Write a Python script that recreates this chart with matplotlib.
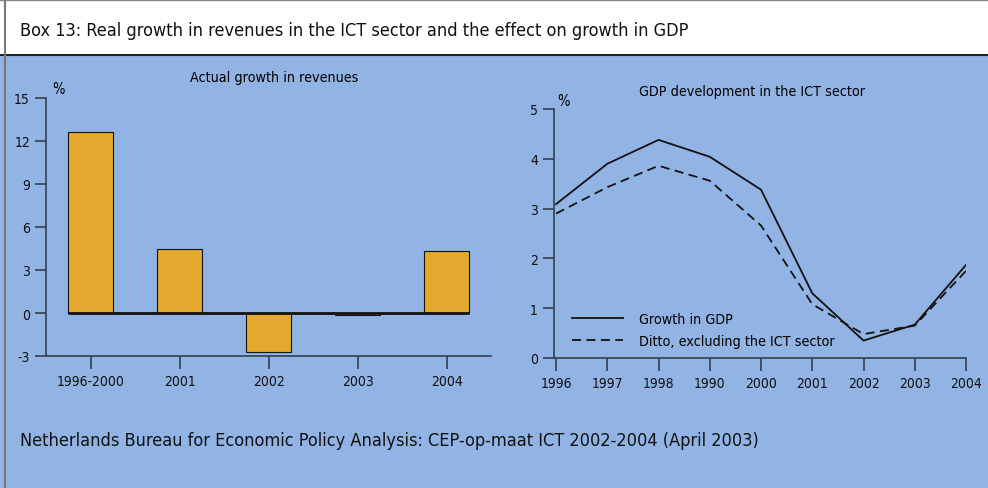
import matplotlib
matplotlib.use("Agg")
import matplotlib.pyplot as plt
from matplotlib.patches import Rectangle
from matplotlib.lines import Line2D

# data
rev_labels = ["1996-2000", "2001", "2002", "2003", "2004"]
rev_growth = [12.6, 4.5, -2.7, -0.15, 4.3]

gdp_years = ["1996", "1997", "1998", "1990", "2000", "2001", "2002", "2003", "2004"]
gdp_growth = [3.09, 3.9, 4.38, 4.04, 3.38, 1.30, 0.35, 0.67, 1.87]
gdp_ex_ict = [2.9, 3.43, 3.86, 3.56, 2.66, 1.08, 0.48, 0.65, 1.75]

BLUE = "#91b4e4"
BAR = "#e3a82e"
AXC = "#33404f"
plt.rcParams["font.family"] = ["DejaVu Sans"]
plt.rcParams["font.stretch"] = "condensed"
plt.rcParams["axes.unicode_minus"] = False

W, H = 988, 489
fig = plt.figure(figsize=(W / 100, H / 100), dpi=100)
fig.patch.set_facecolor(BLUE)


def px(x0, y0, x1, y1):
    return [x0 / W, 1 - y1 / H, (x1 - x0) / W, (y1 - y0) / H]


# header box and borders
fig.add_artist(Rectangle((0, 1 - 56 / H), 1, 56 / H, transform=fig.transFigure,
                         facecolor="white", edgecolor="none"))
fig.add_artist(Line2D([0, 1], [1 - 56 / H] * 2, transform=fig.transFigure, color="#222222", lw=1.5))
fig.add_artist(Line2D([0, 1], [1 - 0.5 / H] * 2, transform=fig.transFigure, color="#888888", lw=1))
fig.add_artist(Line2D([4.5 / W] * 2, [0, 1], transform=fig.transFigure, color="#777777", lw=1.5))
fig.text(20 / W, 1 - 31 / H, "Box 13: Real growth in revenues in the ICT sector and the effect on growth in GDP",
         fontsize=13, va="center", ha="left", color="#111111")
fig.text(20 / W, 1 - 441 / H,
         "Netherlands Bureau for Economic Policy Analysis: CEP-op-maat ICT 2002-2004 (April 2003)",
         fontsize=13, va="center", ha="left", color="#111111")


def style(ax):
    ax.set_facecolor("none")
    for s in ("top", "right"):
        ax.spines[s].set_visible(False)
    for s in ("left", "bottom"):
        ax.spines[s].set_color(AXC)
        ax.spines[s].set_linewidth(1.2)
    ax.tick_params(direction="out", length=8, width=1.2, color=AXC, labelsize=10, labelcolor="#111111")


# left: bars
ax1 = fig.add_axes(px(46, 99, 491, 357))
style(ax1)
x = range(len(rev_labels))
ax1.bar(x, rev_growth, width=0.5, color=BAR, edgecolor="#111111", linewidth=0.8)
ax1.hlines(0, -0.25, len(rev_labels) - 0.75, color="#111111", lw=2)
ax1.set_xlim(-0.5, 4.5)
ax1.set_ylim(-3, 15)
ax1.set_yticks([-3, 0, 3, 6, 9, 12, 15])
ax1.set_xticks(list(x))
ax1.set_xticklabels(rev_labels)
ax1.tick_params(axis="x", length=9, pad=4)
fig.text(274 / W, 1 - 78 / H, "Actual growth in revenues", fontsize=10.3, ha="center", va="center")
fig.text(58 / W, 1 - 89 / H, "%", fontsize=10.5, ha="center", va="center")

# right: lines
ax2 = fig.add_axes(px(554, 110, 966, 359))
style(ax2)
xs = range(len(gdp_years))
ax2.plot(xs, gdp_growth, color="#111111", lw=1.3, label="Growth in GDP")
ax2.plot(xs, gdp_ex_ict, color="#111111", lw=1.3, ls=(0, (5, 3)), label="Ditto, excluding the ICT sector")
ax2.set_xlim(-0.04, 8)
ax2.set_ylim(0, 5)
ax2.set_yticks(range(6))
ax2.set_xticks(list(xs))
ax2.set_xticklabels(gdp_years)
ax2.tick_params(axis="x", length=9, pad=4)
ax2.legend(loc="lower left", bbox_to_anchor=(0.012, -0.012), frameon=False, fontsize=10.3,
           handlelength=3.6, handletextpad=1.1, labelspacing=0.6)
fig.text(752 / W, 1 - 92 / H, "GDP development in the ICT sector", fontsize=10.3, ha="center", va="center")
fig.text(563 / W, 1 - 101 / H, "%", fontsize=10.5, ha="center", va="center")

fig.savefig("out.png", dpi=100, facecolor=fig.get_facecolor())
